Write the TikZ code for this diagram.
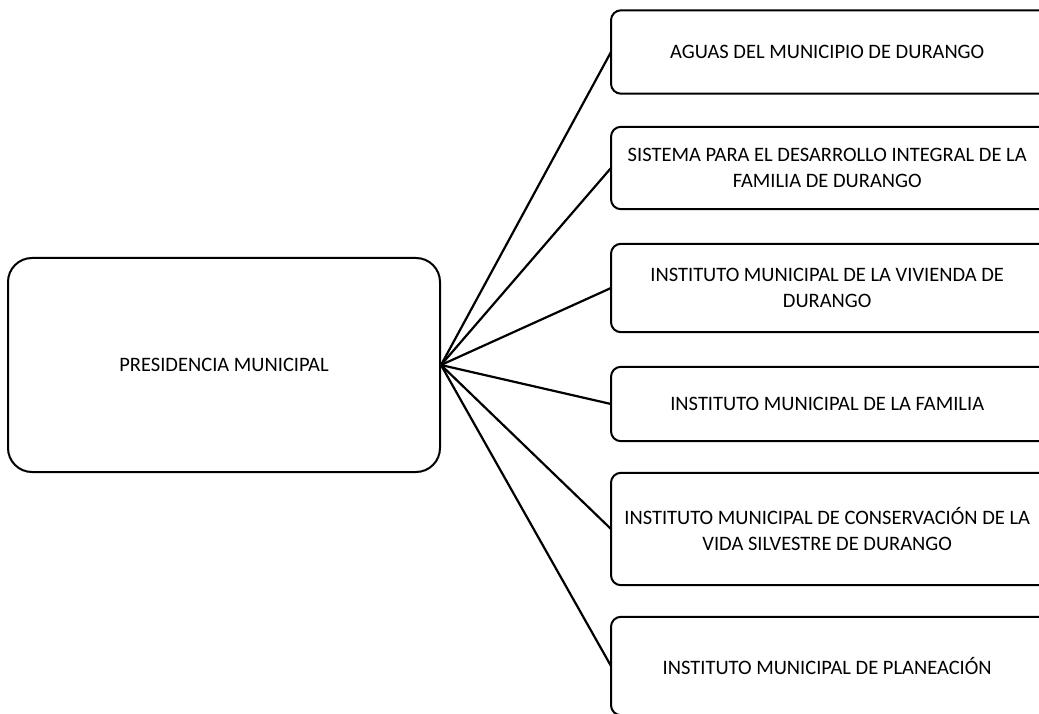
\documentclass[tikz,border=0pt]{standalone}
\usepackage{fontspec}
\setmainfont{Carlito}
\begin{document}
\begin{tikzpicture}[x=1pt,y=-1pt,
  box/.style={minimum width=432pt, align=center, font=\fontsize{20.5}{25.5}\selectfont, inner sep=0pt, anchor=west},
  boxline/.style={draw=black, line width=2pt, rounded corners=10pt},
  mainbox/.style={draw=black, line width=2pt, rounded corners=24pt, minimum width=432pt, minimum height=214pt, align=center, font=\fontsize{20.5}{25.5}\selectfont, inner sep=0pt},
  link/.style={draw=black, line width=2.2pt}]
\useasboundingbox (0,0) rectangle (1039,714);
\fill[white] (0,0) rectangle (1039,714);
\begin{scope}
\clip (0,0) rectangle (1039,714);
\node[mainbox] (P) at (224,365) {PRESIDENCIA MUNICIPAL};
\node[box, minimum height=83pt] (b1) at (611,52) {AGUAS DEL MUNICIPIO DE DURANGO};
\node[box, minimum height=82pt] (b2) at (611,168) {SISTEMA PARA EL DESARROLLO INTEGRAL DE LA\\FAMILIA DE DURANGO};
\node[box, minimum height=88pt] (b3) at (611,288) {INSTITUTO MUNICIPAL DE LA VIVIENDA DE\\DURANGO};
\node[box, minimum height=74pt] (b4) at (611,404) {INSTITUTO MUNICIPAL DE LA FAMILIA};
\node[box, minimum height=112pt] (b5) at (611,529) {INSTITUTO MUNICIPAL DE CONSERVACIÓN DE LA\\VIDA SILVESTRE DE DURANGO};
\node[box, minimum height=98pt] (b6) at (611,666) {INSTITUTO MUNICIPAL DE PLANEACIÓN};
\foreach \b in {b1,b2,b3,b4,b5,b6}{
  \draw[boxline] (\b.south west) rectangle ([xshift=40pt]\b.north east);
  \draw[link] (P.east) -- (\b.west);
}
\end{scope}
\end{tikzpicture}
\end{document}
